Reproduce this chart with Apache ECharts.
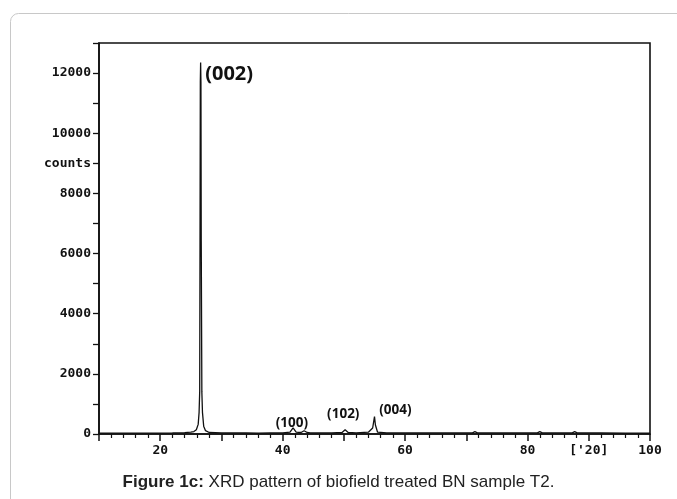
<!DOCTYPE html>
<html><head><meta charset="utf-8">
<script src="https://cdn.jsdelivr.net/npm/echarts@6/dist/echarts.min.js"></script>
<style>html,body{margin:0;padding:0;background:#fff}#c{width:677px;height:499px}</style>
</head><body><div id="c"></div>
<script>
// 2θ (degrees) and intensity (counts)
const twoTheta = [10,12,14,16,18,20,22,23,24,25,25.5,25.9,26.2,26.35,26.45,26.5,26.55,26.6,26.65,26.7,26.8,26.9,27.1,27.4,28,30,32,34,36,38,40,41.2,41.7,42.2,43,43.5,44,44.5,46,48,49.7,50.2,50.7,52,54,54.7,55.0,55.15,55.5,57,60,65,70,71.0,71.4,71.8,74,76,76.3,76.6,79,81.6,82.0,82.4,85,87.3,87.7,88.1,92,96,100];
const counts   = [30,30,30,32,30,30,35,40,45,60,80,140,320,720,1420,6400,11700,12350,11700,6400,1400,720,260,110,50,40,35,35,30,35,40,60,200,60,50,110,50,40,35,40,50,140,50,40,60,200,580,300,60,40,35,35,35,40,80,40,35,40,90,40,35,40,80,40,35,40,80,40,35,30,30];
// Peak labels: [2θ, counts, text]
const peakLabels = [[27.35, 11950, '(002)'], [41.5, 365, '(100)'], [49.9, 665, '(102)'], [58.4, 800, '(004)']];
const xTickLabels = {20:'20', 40:'40', 60:'60', 80:'80', 90:"['20]", 100:'100'};
const yTickLabels = {0:'0', 2000:'2000', 4000:'4000', 6000:'6000', 8000:'8000', 9000:'counts', 10000:'10000', 12000:'12000'};

const chart = echarts.init(document.getElementById('c'));
const monoFont = {fontFamily:'DejaVu Sans Mono', fontWeight:'bold', color:'#111'};
chart.setOption({
  animation:false,
  backgroundColor:'#fff',
  graphic:[{type:'rect', shape:{x:10.5, y:13.5, width:720, height:560, r:8}, style:{fill:'none', stroke:'#c8c8c8', lineWidth:1}, z:-1}],
  title:{
    text:'{b|Figure 1c:} XRD pattern of biofield treated BN sample T2.',
    left:'center', top:469,
    textStyle:{fontFamily:'Liberation Sans', fontSize:17, fontWeight:'normal', color:'#222',
      rich:{b:{fontFamily:'Liberation Sans', fontSize:17, fontWeight:'bold', color:'#222'}}}
  },
  grid:{left:99, right:27, top:43, bottom:65, show:true, borderColor:'#111', borderWidth:1.6, backgroundColor:'transparent'},
  xAxis:{
    type:'value', min:10, max:100, interval:10,
    axisLine:{show:true, lineStyle:{color:'#111', width:1.6}},
    axisTick:{show:true, inside:false, length:7, lineStyle:{color:'#111', width:1.5}},
    minorTick:{show:true, splitNumber:5, length:4, lineStyle:{color:'#111', width:1.2}},
    splitLine:{show:false},
    axisLabel:Object.assign({fontSize:13, margin:10, formatter:v=>xTickLabels[v]||''}, monoFont)
  },
  yAxis:{
    type:'value', min:0, max:13000, interval:1000,
    axisLine:{show:true, lineStyle:{color:'#111', width:1.6}},
    axisTick:{show:true, inside:false, length:6, lineStyle:{color:'#111', width:1.3}},
    splitLine:{show:false},
    axisLabel:Object.assign({fontSize:13, margin:8, formatter:v=>(yTickLabels[v]!==undefined?yTickLabels[v]:'')}, monoFont)
  },
  series:[
    {type:'line', data:twoTheta.map((x,i)=>[x,counts[i]]), symbol:'none', lineStyle:{color:'#111', width:1.3}, z:3},
    {type:'scatter', symbolSize:0, z:4, silent:true,
      data:peakLabels.map((p,i)=>({value:[p[0],p[1]], name:p[2],
        label: i===0 ? {fontSize:20, align:'left'} : {fontSize:13.5}})),
      label:{show:true, position:'inside', formatter:p=>p.name, color:'#111', textBorderWidth:0, opacity:1,
        fontFamily:'Open Sans', fontWeight:'bold'},
      itemStyle:{color:'transparent'}
    }
  ]
});
</script></body></html>
